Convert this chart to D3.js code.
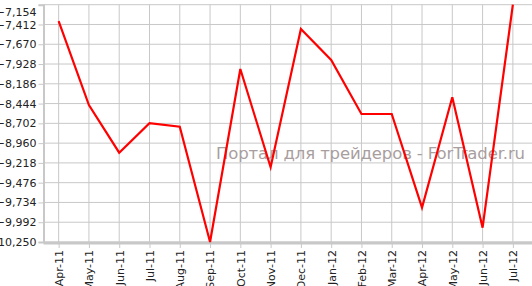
<!DOCTYPE html>
<html>
<head>
<meta charset="utf-8">
<script src="https://cdn.jsdelivr.net/npm/d3@7"></script>
<style>
  body { margin: 0; background: #fff; }
  svg { display: block; font-family: "DejaVu Sans", Verdana, sans-serif; }
</style>
</head>
<body>
<svg id="chart" width="532" height="286"></svg>
<script>
// data
const months = ["Apr-11","May-11","Jun-11","Jul-11","Aug-11","Sep-11","Oct-11","Nov-11",
                "Dec-11","Jan-12","Feb-12","Mar-12","Apr-12","May-12","Jun-12","Jul-12"]
const values = [-7367, -8463, -9085, -8701, -8746, -10250, -7993, -9275,
                -7471, -7875, -8580, -8580, -9802, -8362, -10063, -7154]
const tickValues = [-7154, -7412, -7670, -7928, -8186, -8444, -8702, -8960,
                    -9218, -9476, -9734, -9992, -10250]
const watermark = "Портал для трейдеров - ForTrader.ru"

const width = 532, height = 286
const margin = {top: 4.7, right: 4, bottom: 44, left: 43.5}
const svg = d3.select("#chart")

const x = d3.scalePoint()
  .domain(months)
  .range([margin.left, width - margin.right])
  .padding(0.5)
const y = d3.scaleLinear()
  .domain([d3.min(tickValues), d3.max(tickValues)])
  .range([height - margin.bottom, margin.top])

const fmt = d3.format(",")

// grid
const grid = svg.append("g").attr("stroke", "#c8c8c8").attr("stroke-width", 1)
grid.selectAll(".h").data(tickValues).join("line")
  .attr("x1", margin.left).attr("x2", width)
  .attr("y1", d => y(d)).attr("y2", d => y(d))
grid.selectAll(".v").data(months).join("line")
  .attr("x1", d => x(d)).attr("x2", d => x(d))
  .attr("y1", margin.top).attr("y2", height - margin.bottom)

// watermark, under the line
svg.append("text")
  .attr("x", 216).attr("y", 159)
  .attr("fill", "#a99e9e")
  .attr("font-size", 16.5)
  .attr("textLength", 309)
  .text(watermark)

// y axis
const yAxis = svg.append("g")
  .attr("transform", `translate(${margin.left},0)`)
  .call(d3.axisLeft(y).tickValues(tickValues).tickFormat(fmt).tickSize(5).tickPadding(2))
yAxis.select(".domain").attr("stroke", "#c8c8c8").attr("stroke-width", 2)
yAxis.selectAll(".tick line").attr("stroke", "#c8c8c8")
yAxis.selectAll("text").attr("fill", "#222").attr("font-size", 11)
  .attr("font-family", "DejaVu Sans, sans-serif")
  .filter(d => d === d3.max(tickValues)).attr("dy", "0.95em")

// x axis
const xAxis = svg.append("g")
  .attr("transform", `translate(0,${height - margin.bottom + 1})`)
  .call(d3.axisBottom(x).tickSize(5).tickPadding(3))
xAxis.select(".domain").attr("stroke", "#c8c8c8").attr("stroke-width", 3)
  .attr("d", `M${margin.left},0H${width}`)
xAxis.selectAll(".tick line").attr("stroke", "#c8c8c8")
xAxis.selectAll("text").attr("fill", "#222").attr("font-size", 11)
  .attr("font-family", "DejaVu Sans, sans-serif")
  .attr("text-anchor", "end")
  .attr("transform", "rotate(-90)")
  .attr("x", -7).attr("y", 0).attr("dy", "0.35em")

// line
const line = d3.line().x((d, i) => x(months[i])).y(d => y(d))
svg.append("path")
  .datum(values)
  .attr("fill", "none")
  .attr("stroke", "#ff0000")
  .attr("stroke-width", 2.2)
  .attr("stroke-linejoin", "miter")
  .attr("d", line)
</script>
</body>
</html>
